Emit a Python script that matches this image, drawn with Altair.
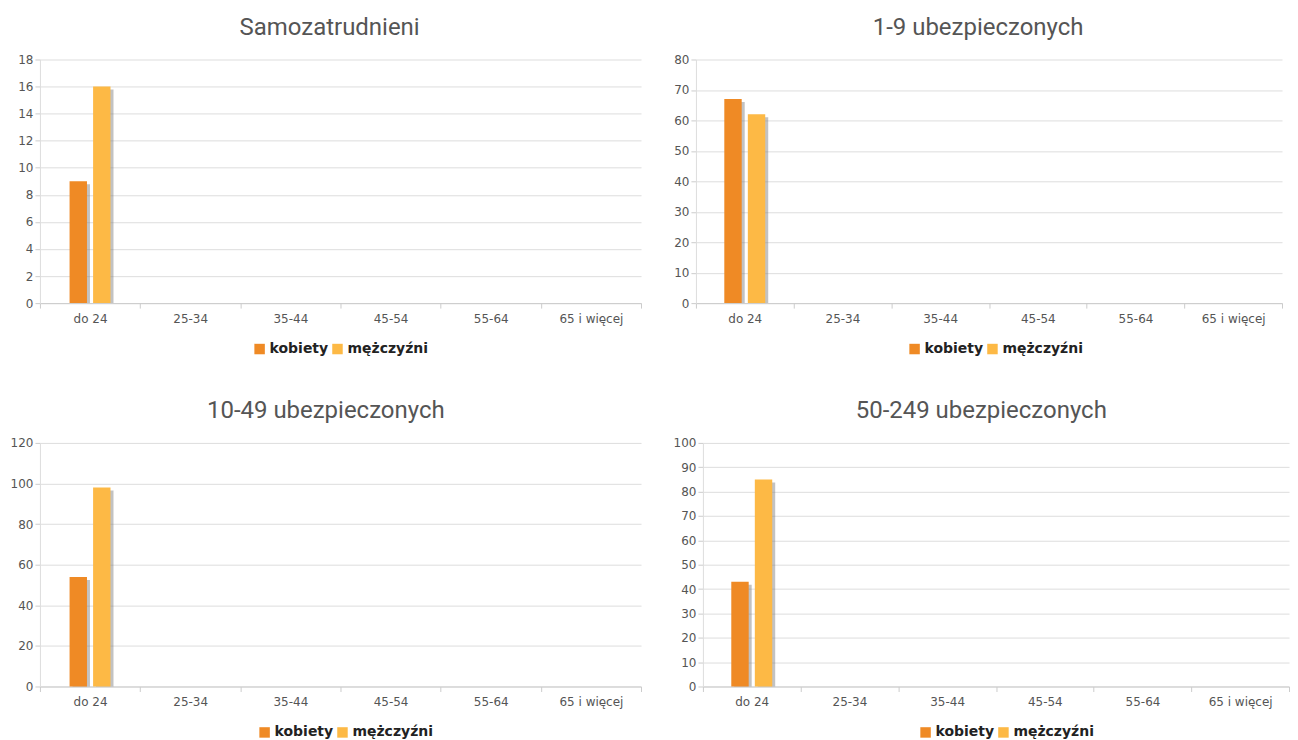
import altair as alt
import pandas as pd

kategorie = ["do 24", "25-34", "35-44", "45-54", "55-64", "65 i więcej"]
serie = ["kobiety", "mężczyźni"]
kolory = ["#EF8A25", "#FDB945"]

tytuly = ["Samozatrudnieni", "1-9 ubezpieczonych", "10-49 ubezpieczonych", "50-249 ubezpieczonych"]
kobiety = [
    [9, 0, 0, 0, 0, 0],
    [67, 0, 0, 0, 0, 0],
    [54, 0, 0, 0, 0, 0],
    [43, 0, 0, 0, 0, 0],
]
mezczyzni = [
    [16, 0, 0, 0, 0, 0],
    [62, 0, 0, 0, 0, 0],
    [98, 0, 0, 0, 0, 0],
    [85, 0, 0, 0, 0, 0],
]
y_max = [18, 80, 120, 100]
y_krok = [2, 10, 20, 10]

FONT = "DejaVu Sans"


def panel(i, width, legend_x):
    rows = []
    for k, v in zip(kategorie, kobiety[i]):
        rows.append({"wiek": k, "płeć": "kobiety", "wartość": v})
    for k, v in zip(kategorie, mezczyzni[i]):
        rows.append({"wiek": k, "płeć": "mężczyźni", "wartość": v})
    df = pd.DataFrame(rows)
    ticks = list(range(0, y_max[i] + 1, y_krok[i]))
    bw = width / len(kategorie)

    x = alt.X("wiek:N", sort=kategorie, title=None,
              scale=alt.Scale(domain=kategorie, paddingInner=0, paddingOuter=0),
              axis=alt.Axis(labelAngle=0, tickBand="extent", labelFont=FONT,
                            labelFontSize=12, labelColor="#555", domainColor="#ccc",
                            tickColor="#ccc", tickSize=5, labelPadding=5, grid=False))
    y = alt.Y("wartość:Q", title=None,
              scale=alt.Scale(domain=[0, y_max[i]], nice=False),
              axis=alt.Axis(values=ticks, labelFont=FONT, labelFontSize=12,
                            labelColor="#555", domainColor="#ddd", tickColor="#ccc",
                            tickSize=5, labelPadding=2, gridColor="#ddd", minExtent=0))

    xo_shadow = alt.XOffset("płeć:N", sort=serie,
                            scale=alt.Scale(domain=serie, paddingInner=0.26, paddingOuter=0,
                                            range=[bw / 2 - 20.5 + 3, bw / 2 + 20.5 + 3]))
    xo = alt.XOffset("płeć:N", sort=serie,
                     scale=alt.Scale(domain=serie, paddingInner=0.26, paddingOuter=0,
                                     range=[bw / 2 - 20.5, bw / 2 + 20.5]))

    shadow = alt.Chart(df).transform_filter("datum['wartość'] > 0").mark_bar(
        color="#777", opacity=0.45, yOffset=3).encode(
        x=x, xOffset=xo_shadow, y=y, y2=alt.datum(0))
    bars = alt.Chart(df).mark_bar().encode(
        x=x, xOffset=xo, y=y,
        color=alt.Color("płeć:N", sort=serie,
                        scale=alt.Scale(domain=serie, range=kolory),
                        legend=alt.Legend(title=None, orient="none", direction="horizontal",
                                          legendX=legend_x, legendY=283,
                                          symbolType="square", symbolSize=110,
                                          symbolStrokeWidth=0, labelFont=FONT,
                                          labelFontSize=14, labelFontWeight="bold",
                                          labelColor="#222", labelOffset=3,
                                          columnPadding=2, padding=0)))
    return alt.layer(shadow, bars).resolve_scale(xOffset="independent").properties(
        width=width, height=244,
        title=alt.TitleParams(tytuly[i], font="Roboto", fontSize=24, fontWeight="normal",
                              color="#555", anchor="middle", frame="bounds", offset=14))


p1 = panel(0, 602, 213)
p2 = panel(1, 587, 212)
p3 = panel(2, 602, 218)
p4 = panel(3, 587, 216)

chart = alt.concat(p1, p2, p3, p4, columns=2, align="none",
                   spacing={"row": 43, "column": 31}).resolve_scale(
    y="independent", color="independent", xOffset="independent").resolve_legend(
    color="independent").properties(
    padding={"left": 2, "top": 7, "right": 0, "bottom": 0}
).configure_view(stroke=None)

chart.save("out.html", embed_options={"renderer": "svg", "actions": False})
